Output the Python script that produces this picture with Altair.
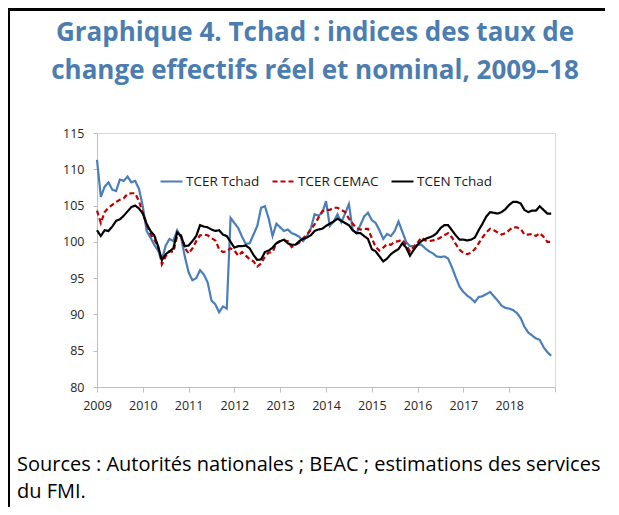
import altair as alt
import pandas as pd

# ---- data (monthly, Jan 2009 - Dec 2018) ----
series_names = ["TCER Tchad", "TCER CEMAC", "TCEN Tchad"]
series_colors = ["#4A7EBB", "#C00000", "#000000"]
series_dashes = [[1, 0], [5, 3], [1, 0]]

tcer_tchad = [
    111.3, 106.2, 107.6, 108.2, 107.2, 107.0, 108.6, 108.4, 109.0, 108.2, 108.4, 107.3,
    104.9, 101.5, 100.6, 99.6, 98.8, 97.5, 99.5, 100.4, 100.1, 101.6, 100.7, 98.0,
    95.8, 94.7, 95.0, 96.1, 95.5, 94.4, 91.9, 91.4, 90.3, 91.1, 90.8, 103.3,
    102.6, 101.9, 100.7, 99.7, 99.8, 101.0, 102.2, 104.7, 104.9, 103.2, 100.8, 102.5,
    102.0, 101.5, 101.7, 101.2, 101.0, 100.7, 100.1, 100.8, 101.8, 103.8, 103.6, 104.0,
    105.6, 102.2, 102.8, 103.8, 102.7, 103.9, 105.2, 101.6, 101.2, 102.3, 103.5, 104.0,
    103.0, 102.6, 101.6, 100.4, 101.1, 100.8, 101.5, 102.8, 101.4, 100.0, 99.4, 99.4,
    99.6, 99.6, 99.1, 98.7, 98.4, 98.0, 97.9, 98.0, 97.7, 96.5, 95.1, 93.8,
    93.1, 92.6, 92.2, 91.7, 92.4, 92.5, 92.8, 93.1, 92.5, 91.9, 91.2, 90.9,
    90.8, 90.6, 90.2, 89.5, 88.3, 87.5, 87.1, 86.7, 86.5, 85.5, 84.8, 84.3,
]
tcer_cemac = [
    104.3, 102.6, 104.1, 104.7, 105.1, 105.5, 105.8, 106.0, 106.6, 106.7, 106.7, 105.6,
    104.0, 102.4, 101.1, 100.3, 99.4, 96.9, 98.0, 98.7, 98.6, 100.8, 100.9, 99.2,
    98.4, 99.1, 100.1, 100.9, 101.0, 100.9, 100.5, 100.2, 99.0, 98.6, 98.7, 99.1,
    98.8, 98.1, 98.6, 98.1, 97.6, 97.3, 96.6, 97.0, 98.0, 98.5, 98.6, 99.8,
    100.1, 100.2, 100.1, 99.3, 99.6, 99.9, 100.5, 101.0, 101.7, 102.4, 103.3, 104.2,
    104.4, 104.4, 104.7, 104.7, 104.4, 104.1, 103.2, 102.5, 101.9, 101.7, 101.8, 101.8,
    100.5, 99.3, 98.8, 99.2, 99.7, 99.6, 100.0, 100.1, 100.3, 99.6, 98.7, 99.3,
    99.9, 100.6, 100.2, 100.1, 100.2, 100.3, 100.6, 100.9, 101.2, 100.6, 99.7, 98.9,
    98.5, 98.3, 98.5, 99.0, 99.8, 100.6, 101.3, 101.8, 101.6, 101.3, 101.0, 101.2,
    101.6, 102.0, 102.0, 101.8, 101.0, 101.0, 101.1, 100.8, 101.2, 100.7, 100.0, 100.0,
]
tcen_tchad = [
    101.6, 100.8, 101.6, 101.5, 102.1, 102.9, 103.1, 103.6, 104.2, 104.8, 105.0, 104.6,
    103.9, 102.5, 101.5, 100.9, 99.4, 97.5, 98.3, 98.7, 99.1, 101.3, 100.8, 99.4,
    99.5, 100.1, 100.8, 102.3, 102.1, 102.0, 101.7, 101.5, 101.6, 101.0, 100.8, 100.0,
    99.2, 99.4, 99.4, 99.5, 99.1, 98.2, 97.5, 97.6, 98.6, 98.8, 99.2, 99.8,
    100.1, 100.3, 99.8, 99.6, 99.6, 100.1, 100.4, 100.6, 100.9, 101.5, 101.7, 101.8,
    102.2, 102.5, 102.8, 103.2, 102.9, 102.6, 102.3, 101.6, 101.2, 101.2, 100.8, 100.4,
    99.0, 98.7, 98.0, 97.3, 97.7, 98.3, 98.7, 99.0, 99.8, 99.2, 98.1, 98.9,
    99.6, 100.1, 100.4, 100.6, 100.8, 101.2, 101.9, 102.3, 102.3, 101.6, 100.9, 100.3,
    100.3, 100.2, 100.3, 100.6, 101.6, 102.5, 103.5, 104.1, 104.0, 103.9, 104.1, 104.5,
    105.1, 105.5, 105.5, 105.3, 104.4, 104.1, 104.3, 104.3, 104.9, 104.4, 103.9, 103.9,
]

year_ticks = list(range(2009, 2020))
y_ticks = list(range(80, 116, 5))

title_lines = ["Graphique 4. Tchad : indices des taux de",
               "change effectifs réel et nominal, 2009–18"]
source_lines = ["Sources : Autorités nationales ; BEAC ; estimations des services",
                "du FMI."]

# ---- build long table ----
rows = []
for name, vals in zip(series_names, [tcer_tchad, tcer_cemac, tcen_tchad]):
    for m, v in enumerate(vals):
        rows.append({"t": 2009 + m / 12.0, "v": v, "serie": name,
                     "ord": series_names.index(name)})
df = pd.DataFrame(rows)

FONT = "Open Sans"

legend = alt.Legend(
    title=None, orient="none", legendX=62, legendY=36, direction="horizontal",
    symbolType="stroke", symbolSize=484, symbolStrokeWidth=2.2,
    labelFont=FONT, labelFontSize=13.5, labelColor="#1a1a1a", labelOffset=2,
    columnPadding=8,
)

lines = alt.Chart(df).mark_line(strokeWidth=2.2).encode(
    x=alt.X("t:Q",
            scale=alt.Scale(domain=[2009, 2019], nice=False, zero=False),
            axis=alt.Axis(values=year_ticks, format="d",
                          labelExpr="datum.value == 2019 ? '' : datum.label",
                          title=None, grid=False, tickSize=5, labelPadding=7,
                          labelFlush=False)),
    y=alt.Y("v:Q",
            scale=alt.Scale(domain=[80, 115], nice=False, zero=False),
            axis=alt.Axis(values=y_ticks, title=None, grid=False, tickSize=4,
                          labelPadding=9)),
    color=alt.Color("serie:N",
                    scale=alt.Scale(domain=series_names, range=series_colors),
                    legend=legend),
    strokeDash=alt.StrokeDash("serie:N",
                              scale=alt.Scale(domain=series_names, range=series_dashes),
                              legend=legend),
    order=alt.Order("ord:Q"),
)

one = pd.DataFrame({"k": [0]})

title = alt.Chart(one).mark_text(
    text=title_lines, align="center", baseline="alphabetic", font=FONT,
    fontSize=26, fontWeight="bold", lineHeight=38, color="#4B7DB0",
).encode(x=alt.value(218), y=alt.value(-92))

src = alt.Chart(one).mark_text(
    text=source_lines, align="left", baseline="alphabetic", font=FONT,
    fontSize=20, lineHeight=27, color="#000000",
).encode(x=alt.value(-80), y=alt.value(338))

frame_top = alt.Chart(one).mark_rule(
    color="#000000", strokeWidth=3).encode(
    x=alt.value(-89), x2=alt.value(510), y=alt.value(-123.5))
frame_left = alt.Chart(one).mark_rule(
    color="#000000", strokeWidth=2).encode(
    x=alt.value(-88), y=alt.value(-125), y2=alt.value(374))

chart = alt.layer(lines, title, src, frame_top, frame_left).properties(
    width=458, height=254,
    padding={"left": 89, "top": 125, "right": 50, "bottom": 120},
    autosize=alt.AutoSizeParams(type="none"),
).configure_view(
    stroke="#D9D9D9", strokeWidth=1
).configure_axis(
    domainColor="#BFBFBF", tickColor="#BFBFBF", labelColor="#262626",
    labelFont=FONT, labelFontSize=12.5,
)

chart.save("out.html", embed_options={"renderer": "svg", "actions": False})
